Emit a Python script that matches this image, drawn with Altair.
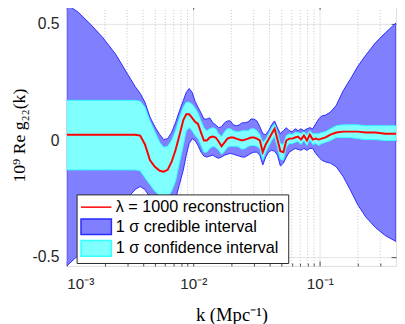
import altair as alt
import pandas as pd

# log10 of wavenumber k (Mpc^-1) at the sampled points
log_k = [-3.000, -2.909, -2.808, -2.715, -2.614, -2.521, -2.459, -2.420, -2.382, -2.343,
         -2.304, -2.265, -2.234, -2.203, -2.172, -2.141, -2.110, -2.079, -2.056, -2.033,
         -2.009, -1.986, -1.963, -1.939, -1.916, -1.893, -1.870, -1.846, -1.823, -1.800,
         -1.777, -1.753, -1.730, -1.707, -1.684, -1.660, -1.637, -1.614, -1.591, -1.567,
         -1.544, -1.521, -1.498, -1.474, -1.451, -1.428, -1.405, -1.381, -1.358, -1.335,
         -1.312, -1.288, -1.265, -1.242, -1.219, -1.195, -1.172, -1.149, -1.126, -1.102,
         -1.079, -1.056, -1.033, -1.009, -0.986, -0.955, -0.916, -0.870, -0.815, -0.761,
         -0.699, -0.637, -0.559, -0.482, -0.398]

cred_upper = [0.584, 0.550, 0.496, 0.441, 0.370, 0.286, 0.231, 0.202, 0.164, 0.101,
              0.059, 0.025, 0.004, 0.008, 0.034, 0.076, 0.126, 0.172, 0.206, 0.223,
              0.206, 0.168, 0.143, 0.118, 0.092, 0.092, 0.097, 0.076, 0.067, 0.055,
              0.059, 0.076, 0.084, 0.084, 0.067, 0.063, 0.067, 0.076, 0.076, 0.080,
              0.092, 0.092, 0.084, 0.059, 0.029, 0.025, 0.042, 0.067, 0.084, 0.055,
              0.029, 0.042, 0.055, 0.042, 0.038, 0.050, 0.042, 0.050, 0.042, 0.050,
              0.055, 0.050, 0.071, 0.092, 0.105, 0.109, 0.122, 0.151, 0.214, 0.261,
              0.319, 0.366, 0.420, 0.462, 0.504]

conf_upper = [0.172, 0.172, 0.172, 0.172, 0.172, 0.172, 0.172, 0.168, 0.143, 0.084,
              0.038, -0.008, -0.029, -0.025, 0.000, 0.042, 0.097, 0.143, 0.164, 0.164,
              0.155, 0.139, 0.118, 0.084, 0.055, 0.042, 0.050, 0.055, 0.050, 0.029,
              0.017, 0.038, 0.050, 0.050, 0.042, 0.038, 0.038, 0.042, 0.042, 0.042,
              0.050, 0.050, 0.042, 0.025, -0.008, 0.004, 0.029, 0.055, 0.071, 0.034,
              -0.013, -0.017, 0.021, 0.029, 0.025, 0.034, 0.034, 0.029, 0.038, 0.025,
              0.042, 0.029, 0.029, 0.029, 0.034, 0.038, 0.050, 0.063, 0.067, 0.067,
              0.067, 0.063, 0.063, 0.063, 0.063]

recon = [0.025, 0.025, 0.025, 0.025, 0.025, 0.025, 0.025, 0.021, -0.017, -0.084,
         -0.113, -0.130, -0.134, -0.126, -0.092, -0.042, 0.021, 0.088, 0.113, 0.113,
         0.097, 0.080, 0.071, 0.034, 0.000, 0.000, 0.013, 0.017, 0.013, -0.004,
         -0.025, -0.008, 0.008, 0.013, 0.013, 0.008, 0.004, 0.000, 0.004, 0.008,
         0.013, 0.013, 0.008, 0.000, -0.050, -0.017, 0.004, 0.029, 0.050, 0.004,
         -0.046, -0.050, 0.000, 0.008, 0.008, 0.013, 0.017, 0.004, 0.021, 0.000,
         0.025, 0.004, 0.008, 0.004, 0.008, 0.013, 0.025, 0.034, 0.038, 0.038,
         0.038, 0.034, 0.034, 0.029, 0.029]

conf_lower = [-0.126, -0.126, -0.126, -0.126, -0.126, -0.126, -0.126, -0.130, -0.160, -0.189,
              -0.218, -0.235, -0.244, -0.244, -0.218, -0.176, -0.097, -0.021, 0.042, 0.055,
              0.042, 0.021, 0.008, -0.021, -0.050, -0.050, -0.034, -0.025, -0.029, -0.042,
              -0.059, -0.046, -0.029, -0.025, -0.025, -0.025, -0.029, -0.038, -0.034, -0.025,
              -0.021, -0.021, -0.025, -0.034, -0.084, -0.050, -0.025, 0.000, 0.017, -0.029,
              -0.080, -0.084, -0.029, -0.013, -0.013, -0.008, -0.004, -0.017, 0.000, -0.021,
              0.004, -0.017, -0.013, -0.021, -0.013, -0.008, 0.000, 0.013, 0.013, 0.013,
              0.008, 0.004, 0.004, 0.000, 0.000]

cred_lower = [-0.538, -0.492, -0.445, -0.387, -0.319, -0.248, -0.210, -0.197, -0.210, -0.244,
              -0.294, -0.328, -0.336, -0.328, -0.303, -0.252, -0.189, -0.126, -0.063, -0.013,
              0.008, 0.000, -0.021, -0.050, -0.067, -0.071, -0.067, -0.063, -0.071, -0.076,
              -0.071, -0.063, -0.059, -0.055, -0.059, -0.063, -0.067, -0.071, -0.071, -0.063,
              -0.055, -0.050, -0.050, -0.063, -0.105, -0.071, -0.050, -0.042, -0.046, -0.063,
              -0.109, -0.097, -0.071, -0.050, -0.042, -0.034, -0.038, -0.042, -0.034, -0.042,
              -0.034, -0.034, -0.055, -0.071, -0.084, -0.092, -0.097, -0.113, -0.155, -0.210,
              -0.277, -0.328, -0.374, -0.408, -0.433]

minor_k = [0.002, 0.003, 0.004, 0.005, 0.006, 0.007, 0.008, 0.009,
           0.02, 0.03, 0.04, 0.05, 0.06, 0.07, 0.08, 0.09, 0.2, 0.3]
major_k = [0.001, 0.01, 0.1]
y_ticks = [-0.5, 0, 0.5]

legend_labels = ["λ = 1000 reconstruction", "1 σ credible interval", "1 σ confidence interval"]

df = pd.DataFrame({
    "k": [10 ** v for v in log_k],
    "bu": cred_upper, "cu": conf_upper, "rec": recon, "cl": conf_lower, "bl": cred_lower,
})
minor_df = pd.DataFrame({"k": minor_k})
legend_df = pd.DataFrame({"series": legend_labels, "k": [0.01] * 3, "y": [-0.4] * 3})

xscale = alt.Scale(type="log", domain=[0.001, 0.4], nice=False)
yscale = alt.Scale(domain=[-0.538, 0.584], nice=False, zero=False)
TICK = "#4d4d4d"

x_axis = alt.Axis(
    orient="bottom",
    values=major_k, title="k (Mpc⁻¹)", titleFont="Liberation Serif", titleFontSize=19,
    titleFontWeight="normal", titleColor="black", titlePadding=14,
    labelExpr="datum.value < 0.005 ? '10⁻³' : datum.value < 0.05 ? '10⁻²' : '10⁻¹'",
    labelFont="Liberation Sans", labelFontSize=15.5, labelColor="#262626", labelPadding=11,
    ticks=False, domain=False, grid=True, gridColor="#e3e3e3", gridWidth=1,
)
y_axis = alt.Axis(
    orient="left",
    values=y_ticks, title="10⁹ Re g₂₂(k)", titleFont="Liberation Serif", titleFontSize=18,
    titleFontWeight="normal", titleColor="black", titlePadding=4,
    labelExpr="datum.value < 0 ? '-0.5' : datum.value > 0 ? '0.5' : '0'",
    labelFont="Liberation Sans", labelFontSize=16, labelColor="#262626", labelPadding=8,
    ticks=False, domain=False, grid=True, gridColor="#e3e3e3", gridWidth=1,
)


def tick_axis(orient, values, size):
    # inward ticks: axis pulled inside the frame by its own tick length
    return alt.Axis(orient=orient, values=values, offset=-size, tickSize=size,
                    tickColor=TICK, tickWidth=1, labels=False, domain=False,
                    grid=False, title=None)


minor = alt.Chart(minor_df).mark_rule(color="#c4c4c4", strokeDash=[1, 2], strokeWidth=1).encode(
    x=alt.X("k:Q", scale=xscale, axis=None)
)

cred = alt.Chart(df).mark_area(
    fill="#8080ff", stroke="#2a2aff", strokeWidth=1, clip=True
).encode(
    x=alt.X("k:Q", scale=xscale, axis=x_axis),
    y=alt.Y("bl:Q", scale=yscale, axis=y_axis),
    y2="bu:Q",
)

conf = alt.Chart(df).mark_area(
    fill="#80ffff", stroke="#33ffff", strokeWidth=1, clip=True
).encode(
    x=alt.X("k:Q", scale=xscale, axis=None),
    y=alt.Y("cl:Q", scale=yscale, axis=None),
    y2="cu:Q",
)

line = alt.Chart(df).mark_line(color="#ff0000", strokeWidth=2, clip=True).encode(
    x=alt.X("k:Q", scale=xscale, axis=None),
    y=alt.Y("rec:Q", scale=yscale, axis=None),
)

# tick-only layers (invisible marks carrying the inward axes)
ticks_a = alt.Chart(legend_df).mark_point(opacity=0).encode(
    x=alt.X("k:Q", scale=xscale, axis=tick_axis("bottom", major_k, 5)),
    y=alt.Y("y:Q", scale=yscale, axis=tick_axis("left", y_ticks, 5)),
)
ticks_b = alt.Chart(legend_df).mark_point(opacity=0).encode(
    x=alt.X("k:Q", scale=xscale, axis=tick_axis("top", major_k, 5)),
    y=alt.Y("y:Q", scale=yscale, axis=tick_axis("right", y_ticks, 5)),
)
ticks_c = alt.Chart(legend_df).mark_point(opacity=0).encode(
    x=alt.X("k:Q", scale=xscale, axis=tick_axis("bottom", minor_k, 3)),
    y=alt.Y("y:Q", scale=yscale, axis=None),
)
ticks_d = alt.Chart(legend_df).mark_point(opacity=0).encode(
    x=alt.X("k:Q", scale=xscale, axis=tick_axis("top", minor_k, 3)),
    y=alt.Y("y:Q", scale=yscale, axis=None),
)

# symbols: nominal size 16x16 for layout, path drawn 31 px wide
rect_path = "M-1.94,-1L1.94,-1L1.94,1L-1.94,1Z"
line_path = "M-1.94,0L1.94,0"

legend = alt.Legend(
    orient="none", legendX=10, legendY=194, title=None,
    fillColor="white", strokeColor="#262626", padding=4,
    labelFont="Liberation Sans", labelFontSize=16.5, labelColor="black", labelLimit=400,
    labelOffset=11, rowPadding=0, symbolSize=256, symbolStrokeWidth=1.5, symbolOffset=7,
)

leg = alt.Chart(legend_df).mark_point(filled=True, size=256, opacity=1, clip=True).encode(
    x=alt.X("k:Q", scale=xscale, axis=None),
    y=alt.Y("y:Q", scale=yscale, axis=None),
    fill=alt.Fill("series:N", scale=alt.Scale(domain=legend_labels,
                                               range=["#ff0000", "#8080ff", "#80ffff"]),
                  legend=legend),
    stroke=alt.Stroke("series:N", scale=alt.Scale(domain=legend_labels,
                                                   range=["#ff0000", "#2a2aff", "#33ffff"]),
                      legend=legend),
    shape=alt.Shape("series:N", scale=alt.Scale(domain=legend_labels,
                                                 range=[line_path, rect_path, rect_path]),
                    legend=legend),
)

chart = alt.layer(
    minor, leg, cred, conf, line, ticks_a, ticks_b, ticks_c, ticks_d
).resolve_axis(x="independent", y="independent").properties(
    width=336, height=267,
    padding={"left": 60, "top": -7, "right": 1, "bottom": 56},
    autosize=alt.AutoSizeParams(type="none"),
).configure_view(stroke="#4d4d4d", strokeWidth=1).configure(background="white")

chart.save("out.html", embed_options={"renderer": "svg", "actions": False})
